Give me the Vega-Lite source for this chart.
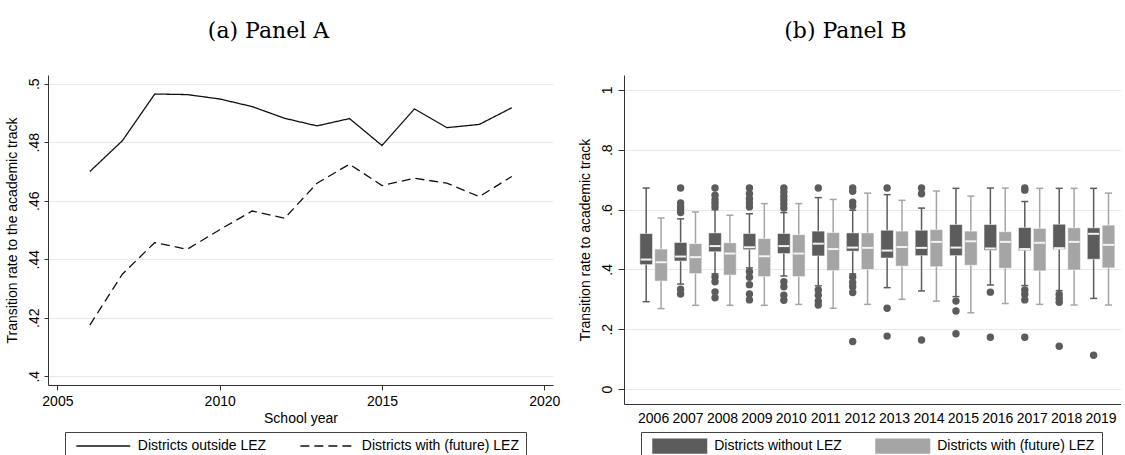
{
  "$schema": "https://vega.github.io/schema/vega-lite/v6.json",
  "padding": {"left": 5, "top": 20, "right": 0, "bottom": 0},
  "background": "white",
  "bounds": "flush",
  "spacing": 71,
  "resolve": {
    "scale": {"color": "independent", "strokeDash": "independent"},
    "legend": {"color": "independent", "strokeDash": "independent"}
  },
  "config": {
    "font": "Liberation Sans",
    "view": {"stroke": null},
    "axis": {
      "domainColor": "#333333",
      "tickColor": "#333333",
      "labelColor": "#000000",
      "titleColor": "#000000",
      "labelFont": "Liberation Sans",
      "titleFont": "Liberation Sans",
      "labelFontSize": 14,
      "titleFontSize": 14,
      "titleFontWeight": "normal",
      "gridColor": "#e8e8e8",
      "gridWidth": 1.2
    },
    "legend": {
      "labelFont": "Liberation Sans",
      "labelFontSize": 14,
      "labelColor": "#000000"
    },
    "title": {"font": "DejaVu Serif", "fontSize": 22, "fontWeight": "normal", "color": "#000000"}
  },
  "datasets": {
    "lines": [
      {"year": 2006, "series": "Districts outside LEZ", "rate": 0.4700},
      {"year": 2007, "series": "Districts outside LEZ", "rate": 0.4805},
      {"year": 2008, "series": "Districts outside LEZ", "rate": 0.4965},
      {"year": 2009, "series": "Districts outside LEZ", "rate": 0.4963},
      {"year": 2010, "series": "Districts outside LEZ", "rate": 0.4948},
      {"year": 2011, "series": "Districts outside LEZ", "rate": 0.4922},
      {"year": 2012, "series": "Districts outside LEZ", "rate": 0.4882},
      {"year": 2013, "series": "Districts outside LEZ", "rate": 0.4856},
      {"year": 2014, "series": "Districts outside LEZ", "rate": 0.4881},
      {"year": 2015, "series": "Districts outside LEZ", "rate": 0.4789},
      {"year": 2016, "series": "Districts outside LEZ", "rate": 0.4914},
      {"year": 2017, "series": "Districts outside LEZ", "rate": 0.4850},
      {"year": 2018, "series": "Districts outside LEZ", "rate": 0.4861},
      {"year": 2019, "series": "Districts outside LEZ", "rate": 0.4918},
      {"year": 2006, "series": "Districts with (future) LEZ", "rate": 0.4175},
      {"year": 2007, "series": "Districts with (future) LEZ", "rate": 0.4349},
      {"year": 2008, "series": "Districts with (future) LEZ", "rate": 0.4457},
      {"year": 2009, "series": "Districts with (future) LEZ", "rate": 0.4434},
      {"year": 2010, "series": "Districts with (future) LEZ", "rate": 0.4501},
      {"year": 2011, "series": "Districts with (future) LEZ", "rate": 0.4565},
      {"year": 2012, "series": "Districts with (future) LEZ", "rate": 0.4540},
      {"year": 2013, "series": "Districts with (future) LEZ", "rate": 0.4660},
      {"year": 2014, "series": "Districts with (future) LEZ", "rate": 0.4725},
      {"year": 2015, "series": "Districts with (future) LEZ", "rate": 0.4652},
      {"year": 2016, "series": "Districts with (future) LEZ", "rate": 0.4677},
      {"year": 2017, "series": "Districts with (future) LEZ", "rate": 0.4660},
      {"year": 2018, "series": "Districts with (future) LEZ", "rate": 0.4614},
      {"year": 2019, "series": "Districts with (future) LEZ", "rate": 0.4683}
    ],
    "boxes": [
      {"year": "2006", "group": "Districts without LEZ", "lo": 0.292, "q1": 0.416, "med": 0.433, "q3": 0.520, "hi": 0.672},
      {"year": "2006", "group": "Districts with (future) LEZ", "lo": 0.269, "q1": 0.361, "med": 0.424, "q3": 0.468, "hi": 0.572},
      {"year": "2007", "group": "Districts without LEZ", "lo": 0.351, "q1": 0.428, "med": 0.443, "q3": 0.490, "hi": 0.569},
      {"year": "2007", "group": "Districts with (future) LEZ", "lo": 0.280, "q1": 0.386, "med": 0.441, "q3": 0.486, "hi": 0.592},
      {"year": "2008", "group": "Districts without LEZ", "lo": 0.385, "q1": 0.459, "med": 0.478, "q3": 0.522, "hi": 0.600},
      {"year": "2008", "group": "Districts with (future) LEZ", "lo": 0.280, "q1": 0.381, "med": 0.453, "q3": 0.489, "hi": 0.581},
      {"year": "2009", "group": "Districts without LEZ", "lo": 0.405, "q1": 0.466, "med": 0.474, "q3": 0.520, "hi": 0.586},
      {"year": "2009", "group": "Districts with (future) LEZ", "lo": 0.280, "q1": 0.376, "med": 0.444, "q3": 0.503, "hi": 0.620},
      {"year": "2010", "group": "Districts without LEZ", "lo": 0.378, "q1": 0.453, "med": 0.478, "q3": 0.520, "hi": 0.590},
      {"year": "2010", "group": "Districts with (future) LEZ", "lo": 0.283, "q1": 0.376, "med": 0.453, "q3": 0.516, "hi": 0.620},
      {"year": "2011", "group": "Districts without LEZ", "lo": 0.345, "q1": 0.445, "med": 0.486, "q3": 0.528, "hi": 0.640},
      {"year": "2011", "group": "Districts with (future) LEZ", "lo": 0.270, "q1": 0.396, "med": 0.468, "q3": 0.523, "hi": 0.634},
      {"year": "2012", "group": "Districts without LEZ", "lo": 0.385, "q1": 0.461, "med": 0.473, "q3": 0.522, "hi": 0.598},
      {"year": "2012", "group": "Districts with (future) LEZ", "lo": 0.283, "q1": 0.400, "med": 0.472, "q3": 0.522, "hi": 0.655},
      {"year": "2013", "group": "Districts without LEZ", "lo": 0.339, "q1": 0.438, "med": 0.463, "q3": 0.531, "hi": 0.650},
      {"year": "2013", "group": "Districts with (future) LEZ", "lo": 0.300, "q1": 0.411, "med": 0.475, "q3": 0.528, "hi": 0.631},
      {"year": "2014", "group": "Districts without LEZ", "lo": 0.328, "q1": 0.446, "med": 0.472, "q3": 0.531, "hi": 0.605},
      {"year": "2014", "group": "Districts with (future) LEZ", "lo": 0.294, "q1": 0.409, "med": 0.492, "q3": 0.533, "hi": 0.662},
      {"year": "2015", "group": "Districts without LEZ", "lo": 0.309, "q1": 0.446, "med": 0.473, "q3": 0.550, "hi": 0.671},
      {"year": "2015", "group": "Districts with (future) LEZ", "lo": 0.255, "q1": 0.414, "med": 0.494, "q3": 0.528, "hi": 0.645},
      {"year": "2016", "group": "Districts without LEZ", "lo": 0.348, "q1": 0.464, "med": 0.470, "q3": 0.550, "hi": 0.672},
      {"year": "2016", "group": "Districts with (future) LEZ", "lo": 0.286, "q1": 0.404, "med": 0.492, "q3": 0.526, "hi": 0.672},
      {"year": "2017", "group": "Districts without LEZ", "lo": 0.346, "q1": 0.463, "med": 0.468, "q3": 0.540, "hi": 0.627},
      {"year": "2017", "group": "Districts with (future) LEZ", "lo": 0.283, "q1": 0.395, "med": 0.489, "q3": 0.537, "hi": 0.671},
      {"year": "2018", "group": "Districts without LEZ", "lo": 0.329, "q1": 0.467, "med": 0.471, "q3": 0.551, "hi": 0.671},
      {"year": "2018", "group": "Districts with (future) LEZ", "lo": 0.281, "q1": 0.398, "med": 0.492, "q3": 0.539, "hi": 0.671},
      {"year": "2019", "group": "Districts without LEZ", "lo": 0.303, "q1": 0.434, "med": 0.519, "q3": 0.539, "hi": 0.671},
      {"year": "2019", "group": "Districts with (future) LEZ", "lo": 0.281, "q1": 0.405, "med": 0.482, "q3": 0.548, "hi": 0.655}
    ],
    "outliers": [
      {"year": "2007", "group": "Districts without LEZ", "value": 0.672},
      {"year": "2007", "group": "Districts without LEZ", "value": 0.622},
      {"year": "2007", "group": "Districts without LEZ", "value": 0.610},
      {"year": "2007", "group": "Districts without LEZ", "value": 0.600},
      {"year": "2007", "group": "Districts without LEZ", "value": 0.590},
      {"year": "2007", "group": "Districts without LEZ", "value": 0.334},
      {"year": "2007", "group": "Districts without LEZ", "value": 0.318},
      {"year": "2008", "group": "Districts without LEZ", "value": 0.672},
      {"year": "2008", "group": "Districts without LEZ", "value": 0.648},
      {"year": "2008", "group": "Districts without LEZ", "value": 0.633},
      {"year": "2008", "group": "Districts without LEZ", "value": 0.621},
      {"year": "2008", "group": "Districts without LEZ", "value": 0.609},
      {"year": "2008", "group": "Districts without LEZ", "value": 0.375},
      {"year": "2008", "group": "Districts without LEZ", "value": 0.359},
      {"year": "2008", "group": "Districts without LEZ", "value": 0.325},
      {"year": "2008", "group": "Districts without LEZ", "value": 0.305},
      {"year": "2009", "group": "Districts without LEZ", "value": 0.672},
      {"year": "2009", "group": "Districts without LEZ", "value": 0.653},
      {"year": "2009", "group": "Districts without LEZ", "value": 0.636},
      {"year": "2009", "group": "Districts without LEZ", "value": 0.622},
      {"year": "2009", "group": "Districts without LEZ", "value": 0.609},
      {"year": "2009", "group": "Districts without LEZ", "value": 0.392},
      {"year": "2009", "group": "Districts without LEZ", "value": 0.374},
      {"year": "2009", "group": "Districts without LEZ", "value": 0.349},
      {"year": "2009", "group": "Districts without LEZ", "value": 0.318},
      {"year": "2009", "group": "Districts without LEZ", "value": 0.298},
      {"year": "2010", "group": "Districts without LEZ", "value": 0.672},
      {"year": "2010", "group": "Districts without LEZ", "value": 0.659},
      {"year": "2010", "group": "Districts without LEZ", "value": 0.645},
      {"year": "2010", "group": "Districts without LEZ", "value": 0.632},
      {"year": "2010", "group": "Districts without LEZ", "value": 0.619},
      {"year": "2010", "group": "Districts without LEZ", "value": 0.605},
      {"year": "2010", "group": "Districts without LEZ", "value": 0.359},
      {"year": "2010", "group": "Districts without LEZ", "value": 0.342},
      {"year": "2010", "group": "Districts without LEZ", "value": 0.314},
      {"year": "2010", "group": "Districts without LEZ", "value": 0.297},
      {"year": "2011", "group": "Districts without LEZ", "value": 0.672},
      {"year": "2011", "group": "Districts without LEZ", "value": 0.331},
      {"year": "2011", "group": "Districts without LEZ", "value": 0.314},
      {"year": "2011", "group": "Districts without LEZ", "value": 0.294},
      {"year": "2011", "group": "Districts without LEZ", "value": 0.281},
      {"year": "2012", "group": "Districts without LEZ", "value": 0.672},
      {"year": "2012", "group": "Districts without LEZ", "value": 0.661},
      {"year": "2012", "group": "Districts without LEZ", "value": 0.625},
      {"year": "2012", "group": "Districts without LEZ", "value": 0.612},
      {"year": "2012", "group": "Districts without LEZ", "value": 0.375},
      {"year": "2012", "group": "Districts without LEZ", "value": 0.356},
      {"year": "2012", "group": "Districts without LEZ", "value": 0.342},
      {"year": "2012", "group": "Districts without LEZ", "value": 0.323},
      {"year": "2012", "group": "Districts without LEZ", "value": 0.159},
      {"year": "2013", "group": "Districts without LEZ", "value": 0.672},
      {"year": "2013", "group": "Districts without LEZ", "value": 0.270},
      {"year": "2013", "group": "Districts without LEZ", "value": 0.177},
      {"year": "2014", "group": "Districts without LEZ", "value": 0.672},
      {"year": "2014", "group": "Districts without LEZ", "value": 0.653},
      {"year": "2014", "group": "Districts without LEZ", "value": 0.164},
      {"year": "2015", "group": "Districts without LEZ", "value": 0.294},
      {"year": "2015", "group": "Districts without LEZ", "value": 0.261},
      {"year": "2015", "group": "Districts without LEZ", "value": 0.185},
      {"year": "2016", "group": "Districts without LEZ", "value": 0.324},
      {"year": "2016", "group": "Districts without LEZ", "value": 0.173},
      {"year": "2017", "group": "Districts without LEZ", "value": 0.672},
      {"year": "2017", "group": "Districts without LEZ", "value": 0.665},
      {"year": "2017", "group": "Districts without LEZ", "value": 0.331},
      {"year": "2017", "group": "Districts without LEZ", "value": 0.316},
      {"year": "2017", "group": "Districts without LEZ", "value": 0.298},
      {"year": "2017", "group": "Districts without LEZ", "value": 0.173},
      {"year": "2018", "group": "Districts without LEZ", "value": 0.316},
      {"year": "2018", "group": "Districts without LEZ", "value": 0.303},
      {"year": "2018", "group": "Districts without LEZ", "value": 0.290},
      {"year": "2018", "group": "Districts without LEZ", "value": 0.143},
      {"year": "2019", "group": "Districts without LEZ", "value": 0.113}
    ]
  },
  "hconcat": [
    {
      "width": 505,
      "height": 310,
      "title": {"text": "(a) Panel A", "anchor": "middle", "offset": 32, "dx": -32},
      "data": {"name": "lines"},
      "mark": {"type": "line", "color": "#111111", "strokeWidth": 1.3},
      "encoding": {
        "x": {
          "field": "year", "type": "quantitative",
          "scale": {"domain": [2004.71, 2020.27], "nice": false, "zero": false},
          "axis": {"title": "School year", "values": [2005, 2010, 2015, 2020], "format": "d", "grid": false, "tickSize": 5, "labelPadding": 4, "titlePadding": 3}
        },
        "y": {
          "field": "rate", "type": "quantitative",
          "scale": {"domain": [0.397, 0.503], "nice": false, "zero": false},
          "axis": {"title": "Transition rate to the academic track", "values": [0.4, 0.42, 0.44, 0.46, 0.48, 0.5], "labelExpr": "replace(format(datum.value, '~g'), '0.', '.')", "labelAngle": -90, "tickSize": 4, "labelPadding": 3, "titlePadding": 8}
        },
        "strokeDash": {
          "field": "series", "type": "nominal",
          "scale": {"domain": ["Districts outside LEZ", "Districts with (future) LEZ"], "range": [[1, 0], [9, 5]]},
          "legend": {"title": null, "orient": "none", "legendX": 17, "legendY": 357, "direction": "horizontal", "strokeColor": "#444444", "padding": 7, "symbolType": "M-10,0L10,0", "symbolSize": 29, "symbolOffset": 24.3, "symbolStrokeWidth": 1.3, "symbolStrokeColor": "#111111", "labelOffset": 27.5, "columnPadding": 29}
        }
      }
    },
    {
      "width": 497,
      "height": 329,
      "title": {"text": "(b) Panel B", "anchor": "middle", "offset": 32, "dx": -27},
      "data": {"name": "boxes"},
      "encoding": {
        "x": {
          "field": "year", "type": "ordinal",
          "scale": {"paddingInner": 0.2, "paddingOuter": 0.32, "align": 0.72},
          "axis": {"title": null, "labelAngle": 0, "ticks": false, "labelPadding": 7, "grid": false}
        },
        "xOffset": {"field": "group", "type": "nominal", "scale": {"domain": ["Districts without LEZ", "Districts with (future) LEZ"], "paddingInner": 0.15}}
      },
      "layer": [
        {
          "mark": {"type": "rule", "strokeWidth": 1.5, "opacity": 1},
          "encoding": {
            "y": {"field": "lo", "type": "quantitative", "scale": {"domain": [-0.05, 1.05], "nice": false, "zero": false},
              "axis": {"title": "Transition rate to academic track", "values": [0, 0.2, 0.4, 0.6, 0.8, 1], "labelExpr": "replace(format(datum.value, '~g'), '0.', '.')", "labelAngle": -90, "tickSize": 6, "labelPadding": 4, "titlePadding": 8}},
            "y2": {"field": "hi"},
            "color": {"field": "group", "type": "nominal", "scale": {"domain": ["Districts without LEZ", "Districts with (future) LEZ"], "range": ["#5c5c5c", "#a5a5a5"]}}
          }
        },
        {
          "mark": {"type": "tick", "size": 7, "thickness": 1.5, "opacity": 1},
          "encoding": {
            "y": {"field": "lo", "type": "quantitative"},
            "color": {"field": "group", "type": "nominal"}
          }
        },
        {
          "mark": {"type": "tick", "size": 7, "thickness": 1.5, "opacity": 1},
          "encoding": {
            "y": {"field": "hi", "type": "quantitative"},
            "color": {"field": "group", "type": "nominal"}
          }
        },
        {
          "mark": {"type": "bar", "stroke": "#ffffff", "strokeWidth": 0.5, "opacity": 1},
          "encoding": {
            "y": {"field": "q1", "type": "quantitative"},
            "y2": {"field": "q3"},
            "color": {"field": "group", "type": "nominal",
              "legend": {"title": null, "orient": "none", "legendX": 17, "legendY": 357, "direction": "horizontal", "strokeColor": "#444444", "padding": 7, "symbolType": "M-10,-2.8L10,-2.8L10,2.8L-10,2.8Z", "symbolSize": 30.25, "symbolOffset": 24.75, "symbolStrokeWidth": 0, "symbolOpacity": 1, "labelOffset": 27.5, "columnPadding": 29}}
          }
        },
        {
          "mark": {"type": "tick", "size": 11, "thickness": 2, "color": "#f2f2f2", "opacity": 1},
          "encoding": {
            "y": {"field": "med", "type": "quantitative"}
          }
        },
        {
          "data": {"name": "outliers"},
          "mark": {"type": "circle", "size": 55, "opacity": 1},
          "encoding": {
            "y": {"field": "value", "type": "quantitative"},
            "color": {"field": "group", "type": "nominal"}
          }
        }
      ]
    }
  ]
}
